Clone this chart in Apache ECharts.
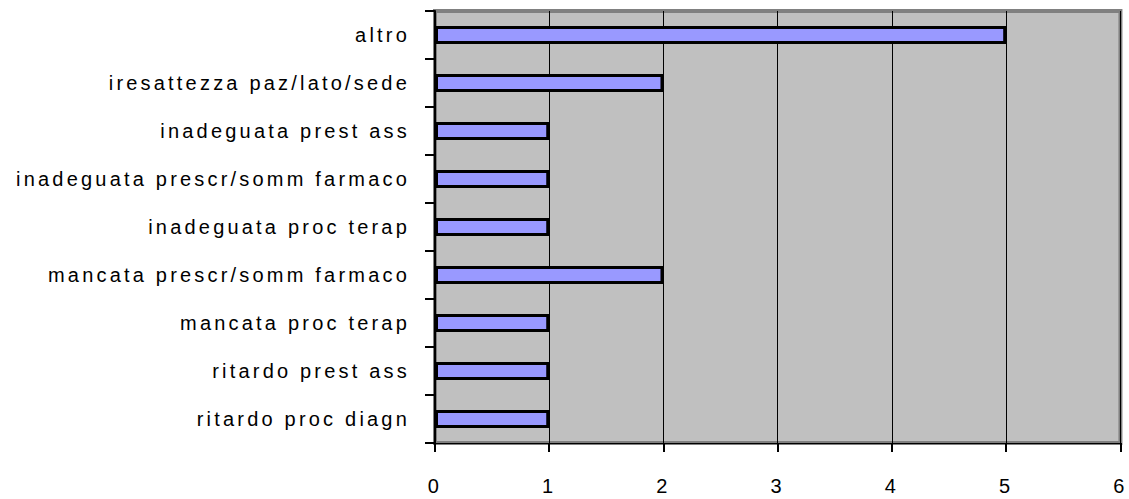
<!DOCTYPE html>
<html>
<head>
<meta charset="utf-8">
<script src="https://cdn.jsdelivr.net/npm/echarts@6/dist/echarts.min.js"></script>
<style>
  html, body { margin: 0; padding: 0; background: #fff; }
  #main { width: 1129px; height: 499px; }
  #main text { letter-spacing: 3.2px; }
</style>
</head>
<body>
<div id="main"></div>
<script>
// categories top to bottom
const categories = [
  'altro',
  'iresattezza paz/lato/sede',
  'inadeguata prest ass',
  'inadeguata prescr/somm farmaco',
  'inadeguata proc terap',
  'mancata prescr/somm farmaco',
  'mancata proc terap',
  'ritardo prest ass',
  'ritardo proc diagn'
]
const counts = [5, 2, 1, 1, 1, 2, 1, 1, 1]
const xTicks = [0, 1, 2, 3, 4, 5, 6]

const myChart = echarts.init(document.getElementById('main'), null, { renderer: 'svg' })

const option = {
  animation: false,
  textStyle: { fontFamily: 'Liberation Sans', color: '#000' },
  grid: {
    left: 435,
    right: 8,
    top: 11,
    bottom: 56,
    show: true,
    backgroundColor: '#C0C0C0',
    borderColor: '#808080',
    borderWidth: 4
  },
  xAxis: {
    type: 'value',
    min: xTicks[0],
    max: xTicks[xTicks.length - 1],
    interval: 1,
    axisLine: { show: true, lineStyle: { color: '#000', width: 1 } },
    axisTick: { show: true, length: 9, lineStyle: { color: '#000', width: 2 } },
    axisLabel: { fontSize: 20, color: '#000', margin: 33, fontFamily: 'Liberation Sans' },
    splitLine: { show: true, lineStyle: { color: '#000', width: 1 } }
  },
  yAxis: {
    type: 'category',
    data: categories,
    inverse: true,
    axisLine: { show: true, lineStyle: { color: '#000', width: 2 } },
    axisTick: { show: true, length: 10, lineStyle: { color: '#000', width: 2 } },
    axisLabel: { fontSize: 20, color: '#000', margin: 25, fontFamily: 'Liberation Sans' },
    splitLine: { show: false }
  },
  series: [
    {
      type: 'bar',
      data: counts,
      barWidth: 18,
      itemStyle: { color: '#9999FF', borderColor: '#000', borderWidth: 3 }
    }
  ]
}

myChart.setOption(option)
</script>
</body>
</html>
